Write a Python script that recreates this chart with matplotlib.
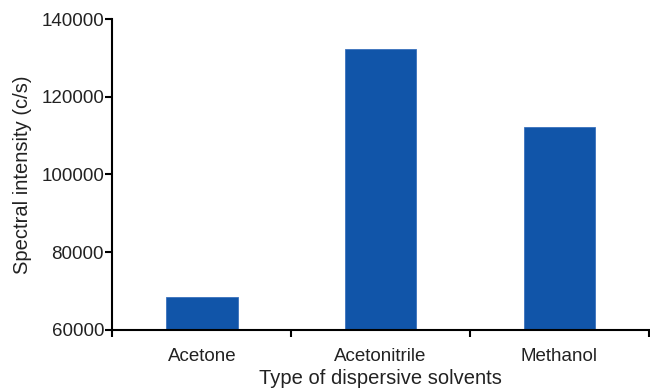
import numpy as np
import matplotlib.pyplot as plt

plt.rcParams['font.family'] = ['Liberation Sans', 'DejaVu Sans']

# data
solvents = ['Acetone', 'Acetonitrile', 'Methanol']
intensity = [68500, 132400, 112300]

fig = plt.figure(figsize=(6.5, 3.89), dpi=100)
ax = fig.add_axes([0.173, 0.152, 0.825, 0.799])

x = np.arange(len(solvents))
ax.bar(x, intensity, width=0.4, color='#1155a9', edgecolor='#3a72bd', linewidth=0.6, zorder=2)

ax.set_xlim(-0.5, len(solvents) - 0.5)
ax.set_ylim(60000, 140000)
ax.set_yticks(np.arange(60000, 140001, 20000))

# tick marks between categories, labels under bars
ax.set_xticks(np.arange(-0.5, len(solvents), 1.0))
ax.set_xticklabels([])
ax.set_xticks(x, minor=True)
ax.set_xticklabels(solvents, minor=True)
ax.tick_params(axis='x', which='minor', length=0, pad=13, labelsize=13.5, labelcolor='#222222')
ax.tick_params(axis='x', which='major', length=5, width=1.5, direction='out')
ax.tick_params(axis='y', length=5, width=1.5, direction='out', labelsize=13.5, labelcolor='#222222', pad=1)

for side in ['top', 'right']:
    ax.spines[side].set_visible(False)
for side in ['left', 'bottom']:
    ax.spines[side].set_linewidth(1.5)

ax.set_xlabel('Type of dispersive solvents', fontsize=14.5, color='#222222', labelpad=3)
ax.set_ylabel('Spectral intensity (c/s)', fontsize=14.5, color='#222222', labelpad=7)

fig.savefig('out.png', dpi=100)
